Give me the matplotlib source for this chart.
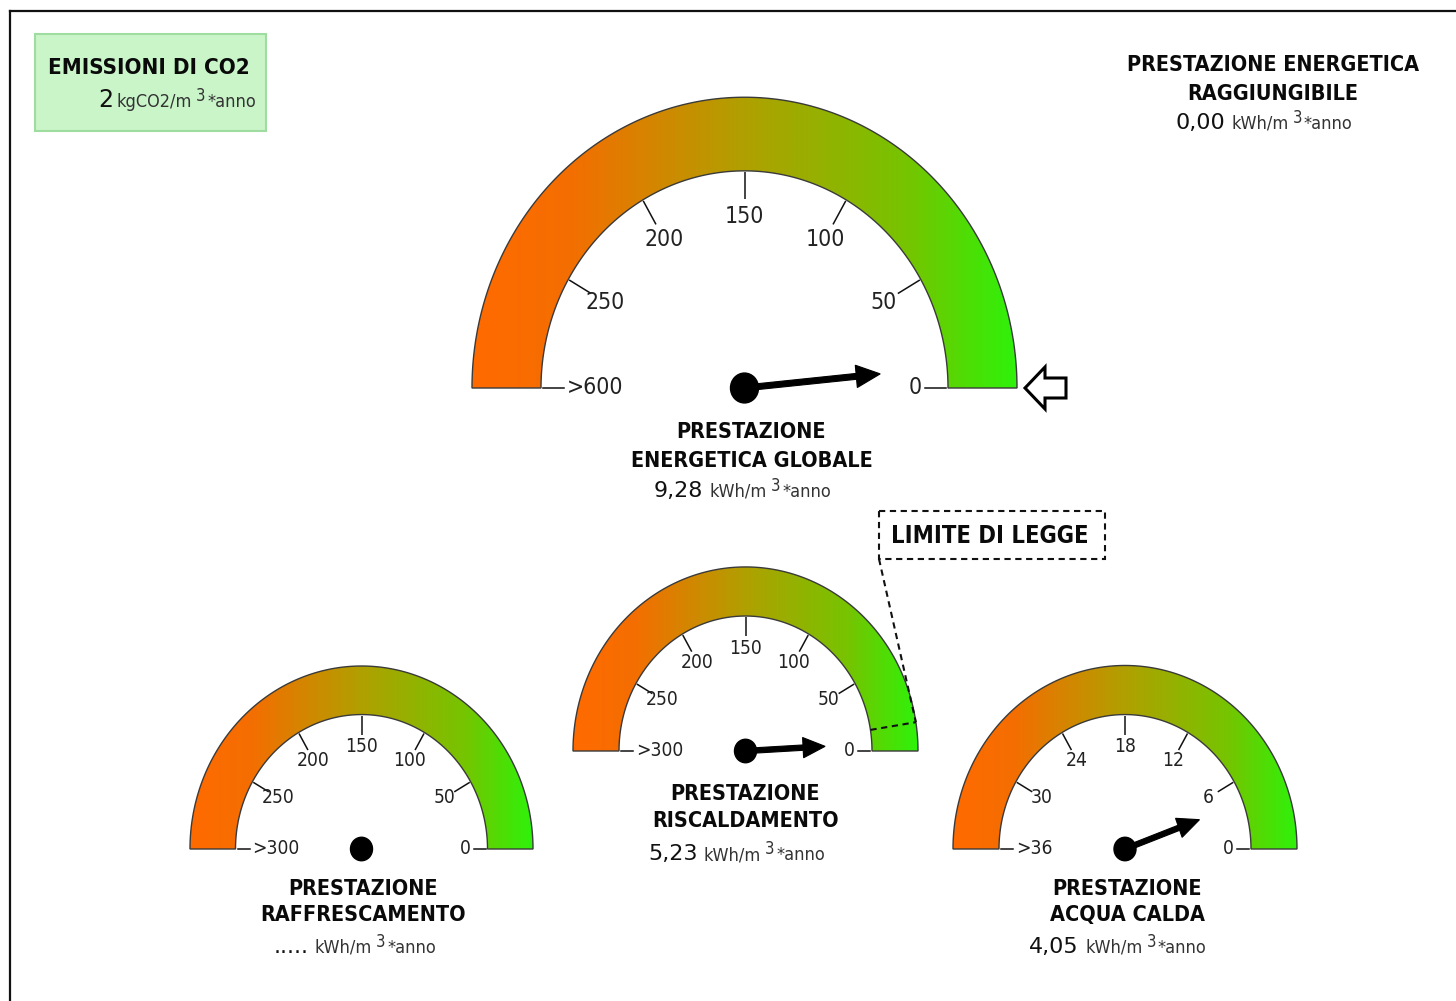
import numpy as np
import matplotlib
matplotlib.use("Agg")
import matplotlib.pyplot as plt
from matplotlib.path import Path
from matplotlib.patches import PathPatch, Polygon, Ellipse, Rectangle
from matplotlib.colors import LinearSegmentedColormap

# ---------------------------------------------------------------- data
global_value = 9.28
heating_value = 5.23
cooling_value = None          # not available
dhw_value = 4.05
achievable_value = 0.00
co2_value = 2
heating_limit = 15

energy_ticks = [0, 50, 100, 150, 200, 250, 300]
global_tick_labels = ["0", "50", "100", "150", "200", "250", ">600"]
service_tick_labels = ["0", "50", "100", "150", "200", "250", ">300"]
dhw_ticks = [0, 6, 12, 18, 24, 30, 36]
dhw_tick_labels = ["0", "6", "12", "18", "24", "30", ">36"]

global_title = ["PRESTAZIONE", "ENERGETICA GLOBALE"]
heating_title = ["PRESTAZIONE", "RISCALDAMENTO"]
cooling_title = ["PRESTAZIONE", "RAFFRESCAMENTO"]
dhw_title = ["PRESTAZIONE", "ACQUA CALDA"]
achievable_title = ["PRESTAZIONE ENERGETICA", "RAGGIUNGIBILE"]
co2_title = "EMISSIONI DI CO2"
limit_label = "LIMITE DI LEGGE"
energy_unit = "kWh/m"
co2_unit = "kgCO2/m"
unit_power = "3"
unit_period = "*anno"

# ---------------------------------------------------------------- canvas
W, H = 1456, 1001
KY = 1.067  # vertical stretch of the dial drawing
FAM = "DejaVu Sans"
BOLD = dict(family=FAM, weight="bold", fontstretch="condensed", color="#0a0a0a")
REG = dict(family=FAM, color="#111111")
SMALL = dict(family=FAM, fontstretch="condensed", color="#222222")
UNIT = dict(family=FAM, fontstretch="condensed", color="#333333")
TITLE_FS = 15.5

fig = plt.figure(figsize=(W / 100, H / 100), dpi=100)
ax = fig.add_axes([0, 0, 1, 1])
ax.set_xlim(0, W)
ax.set_ylim(H, 0)
ax.axis("off")
renderer = fig.canvas.get_renderer()

gauge_cmap = LinearSegmentedColormap.from_list(
    "gauge", [(0.0, "#ff6a00"), (0.18, "#f46e00"), (0.5, "#b0a000"),
              (0.8, "#76c400"), (1.0, "#2ef20a")])


def fmt(v):
    return "....." if v is None else f"{v:.2f}".replace(".", ",")


def polar(cx, cy, r, ang):
    a = np.radians(ang)
    return cx + r * np.cos(a), cy - KY * r * np.sin(a)


def band_path(cx, cy, ro, ri, n=240):
    t = np.linspace(0, np.pi, n)
    xo, yo = cx + ro * np.cos(t), cy - KY * ro * np.sin(t)
    xi, yi = cx + ri * np.cos(t[::-1]), cy - KY * ri * np.sin(t[::-1])
    verts = np.concatenate([np.c_[xo, yo], np.c_[xi, yi], [[xo[0], yo[0]]]])
    codes = [Path.MOVETO] + [Path.LINETO] * (len(verts) - 2) + [Path.CLOSEPOLY]
    return Path(verts, codes)


def rich_line(x, y, pieces, ha="center"):
    """pieces: (text, size, rise, style, gap_before)"""
    arts, widths = [], []
    for text, size, rise, style, gap in pieces:
        t = ax.text(0, y - rise, text, fontsize=size, va="baseline", ha="left",
                    **style)
        arts.append((t, gap))
        widths.append(t.get_window_extent(renderer).width + gap)
    total = sum(widths)
    x0 = {"center": x - total / 2, "right": x - total, "left": x}[ha]
    for (t, gap), w in zip(arts, widths):
        t.set_x(x0 + gap)
        x0 += w


def value_line(x, y, value, big=16):
    rich_line(x, y, [(fmt(value), big, 0, REG, 0),
                     (energy_unit, 13, 0, UNIT, 6),
                     (unit_power, 12, 6, UNIT, 4),
                     (unit_period, 13, 0, UNIT, 2)])


def needle(cx, cy, length, ang, hub, shaft_w, head_l, head_w):
    a = np.radians(ang)
    c, s = np.cos(a), np.sin(a)
    loc = [(0, -shaft_w / 2), (length - head_l, -shaft_w / 2),
           (length - head_l, -head_w / 2), (length, 0),
           (length - head_l, head_w / 2), (length - head_l, shaft_w / 2),
           (0, shaft_w / 2)]
    pts = [(cx + u * c - v * s, cy - KY * (u * s + v * c)) for u, v in loc]
    ax.add_patch(Polygon(pts, closed=True, fc="black", ec="black", lw=0.8,
                         zorder=5))


def gauge(g):
    cx, cy, ro, ri = g["cx"], g["cy"], g["ro"], g["ri"]
    vmax = g["ticks"][-1]
    path = band_path(cx, cy, ro, ri)
    im = ax.imshow(np.linspace(0, 1, 512)[None, :], cmap=gauge_cmap,
                   extent=(cx - ro, cx + ro, cy, cy - KY * ro), aspect="auto",
                   interpolation="bilinear", zorder=1)
    edge = PathPatch(path, fc="none", ec="#3a3a3a", lw=1.0, zorder=2)
    ax.add_patch(edge)
    im.set_clip_path(edge)

    for v, lab in zip(g["ticks"], g["labels"]):
        ang = 180.0 * v / vmax
        if 0 < ang < 180:
            x1, y1 = polar(cx, cy, ri - 1, ang)
            x2, y2 = polar(cx, cy, ri * (1 - g["tick_len"]), ang)
            ax.plot([x1, x2], [y1, y2], color="#111111", lw=1.1, zorder=3,
                    solid_capstyle="butt")
            lx, ly = polar(cx, cy, ri * g["label_r"], ang)
            ax.text(lx, ly, lab, fontsize=g["tick_fs"], ha="center",
                    va="center", **SMALL)
        else:
            sign = 1 if ang == 0 else -1
            x1 = cx + sign * (ri - 2)
            x2 = cx + sign * (ri - g["dash"])
            ax.plot([x1, x2], [cy, cy], color="#111111", lw=1.1, zorder=3)
            ax.text(x2 - sign * 3, cy, lab, fontsize=g["tick_fs"],
                    ha="right" if sign > 0 else "left", va="center", **SMALL)

    val = g["value"]
    if val is not None:
        ang = 180.0 * min(val, vmax) / vmax
        needle(cx, cy, ri * g["needle"], ang, g["hub"], g["shaft"],
               g["head_l"], g["head_w"])
    ax.add_patch(Ellipse((cx, cy), 2 * g["hub"], 2 * g["hub"] * KY,
                         fc="black", ec="black", zorder=6))

    tx = cx + g.get("title_dx", 0)
    for line, yy in zip(g["title"], g["title_y"]):
        ax.text(tx, yy, line, fontsize=TITLE_FS, ha="center", va="baseline",
                **BOLD)
    value_line(tx - 9, g["value_y"], val)


# ---------------------------------------------------------------- frame
ax.plot([10, 10], [11, H + 5], color="#111111", lw=1.6, zorder=0)
ax.plot([10, W + 5], [11, 11], color="#111111", lw=1.6, zorder=0)

# ---------------------------------------------------------------- gauges
gauges = [
    dict(cx=744.5, cy=388, ro=272.5, ri=203.5, ticks=energy_ticks,
         labels=global_tick_labels, value=global_value, tick_fs=16.5,
         tick_len=0.13, label_r=0.79, dash=23, needle=0.67, hub=14,
         shaft=5.5, head_l=24, head_w=21, title=global_title,
         title_y=[438, 467], value_y=497, title_dx=7),
    dict(cx=745.5, cy=751, ro=172.5, ri=126.5, ticks=energy_ticks,
         labels=service_tick_labels, value=heating_value, tick_fs=13.8,
         tick_len=0.15, label_r=0.76, dash=14, needle=0.63, hub=11,
         shaft=5, head_l=22, head_w=19, title=heating_title,
         title_y=[800, 827], value_y=860),
    dict(cx=361.5, cy=849, ro=171.5, ri=126, ticks=energy_ticks,
         labels=service_tick_labels, value=cooling_value, tick_fs=13.8,
         tick_len=0.15, label_r=0.76, dash=14, needle=0.63, hub=11,
         shaft=5, head_l=22, head_w=19, title=cooling_title,
         title_y=[895, 921], value_y=953, title_dx=2),
    dict(cx=1125, cy=849, ro=172, ri=126, ticks=dhw_ticks,
         labels=dhw_tick_labels, value=dhw_value, tick_fs=13.8,
         tick_len=0.15, label_r=0.76, dash=14, needle=0.63, hub=11,
         shaft=5, head_l=22, head_w=19, title=dhw_title,
         title_y=[895, 921], value_y=953, title_dx=2),
]
for g in gauges:
    gauge(g)

# achievable-performance marker beside the global dial
gm = gauges[0]
ang_a = 180.0 * achievable_value / gm["ticks"][-1]
ax0, ay0 = polar(gm["cx"], gm["cy"], gm["ro"] + 8, ang_a)
arrow_pts = [(ax0, ay0), (ax0 + 20, ay0 - 21), (ax0 + 20, ay0 - 10),
             (ax0 + 41, ay0 - 10), (ax0 + 41, ay0 + 10), (ax0 + 20, ay0 + 10),
             (ax0 + 20, ay0 + 21)]
ax.add_patch(Polygon(arrow_pts, closed=True, fc="white", ec="black", lw=2.2,
                     joinstyle="miter", zorder=4))

# legal limit on the heating dial
gh = gauges[1]
ang_l = 180.0 * heating_limit / gh["ticks"][-1]
li = polar(gh["cx"], gh["cy"], gh["ri"], ang_l)
lo = polar(gh["cx"], gh["cy"], gh["ro"], ang_l)
dash_style = dict(color="#111111", lw=1.5, ls=(0, (3, 2.2)), zorder=4)
ax.plot([li[0], lo[0]], [li[1], lo[1]], **dash_style)
box = (879, 511, 1105, 559)
ax.add_patch(Rectangle((box[0], box[1]), box[2] - box[0], box[3] - box[1],
                       fc="white", ec="#111111", lw=1.5, ls=(0, (3, 2.2)),
                       zorder=4))
ax.plot([box[0], lo[0]], [box[3], lo[1]], **dash_style)
ax.text((box[0] + box[2]) / 2 - 2, (box[1] + box[3]) / 2 + 1, limit_label,
        fontsize=17, ha="center", va="center", zorder=5, **BOLD)

# ---------------------------------------------------------------- CO2 box
ax.add_patch(Rectangle((35, 34), 231, 97, fc="#c9f5c9", ec="#9fdc9f", lw=1.5,
                       zorder=1))
ax.text(148.5, 74, co2_title, fontsize=16, ha="center", va="baseline",
        zorder=2, **BOLD)
rich_line(256, 107, [(str(co2_value), 17, 0, REG, 0),
                     (co2_unit, 13, 0, UNIT, 3),
                     (unit_power, 12, 6, UNIT, 4),
                     (unit_period, 13, 0, UNIT, 2)], ha="right")

# ---------------------------------------------------------------- achievable
ax.text(1273, 71, achievable_title[0], fontsize=TITLE_FS, ha="center",
        va="baseline", **BOLD)
ax.text(1273, 100, achievable_title[1], fontsize=TITLE_FS, ha="center",
        va="baseline", **BOLD)
value_line(1264, 129, achievable_value)

ax.set_xlim(0, W)
ax.set_ylim(H, 0)
fig.savefig("out.png", dpi=100, facecolor="white")
